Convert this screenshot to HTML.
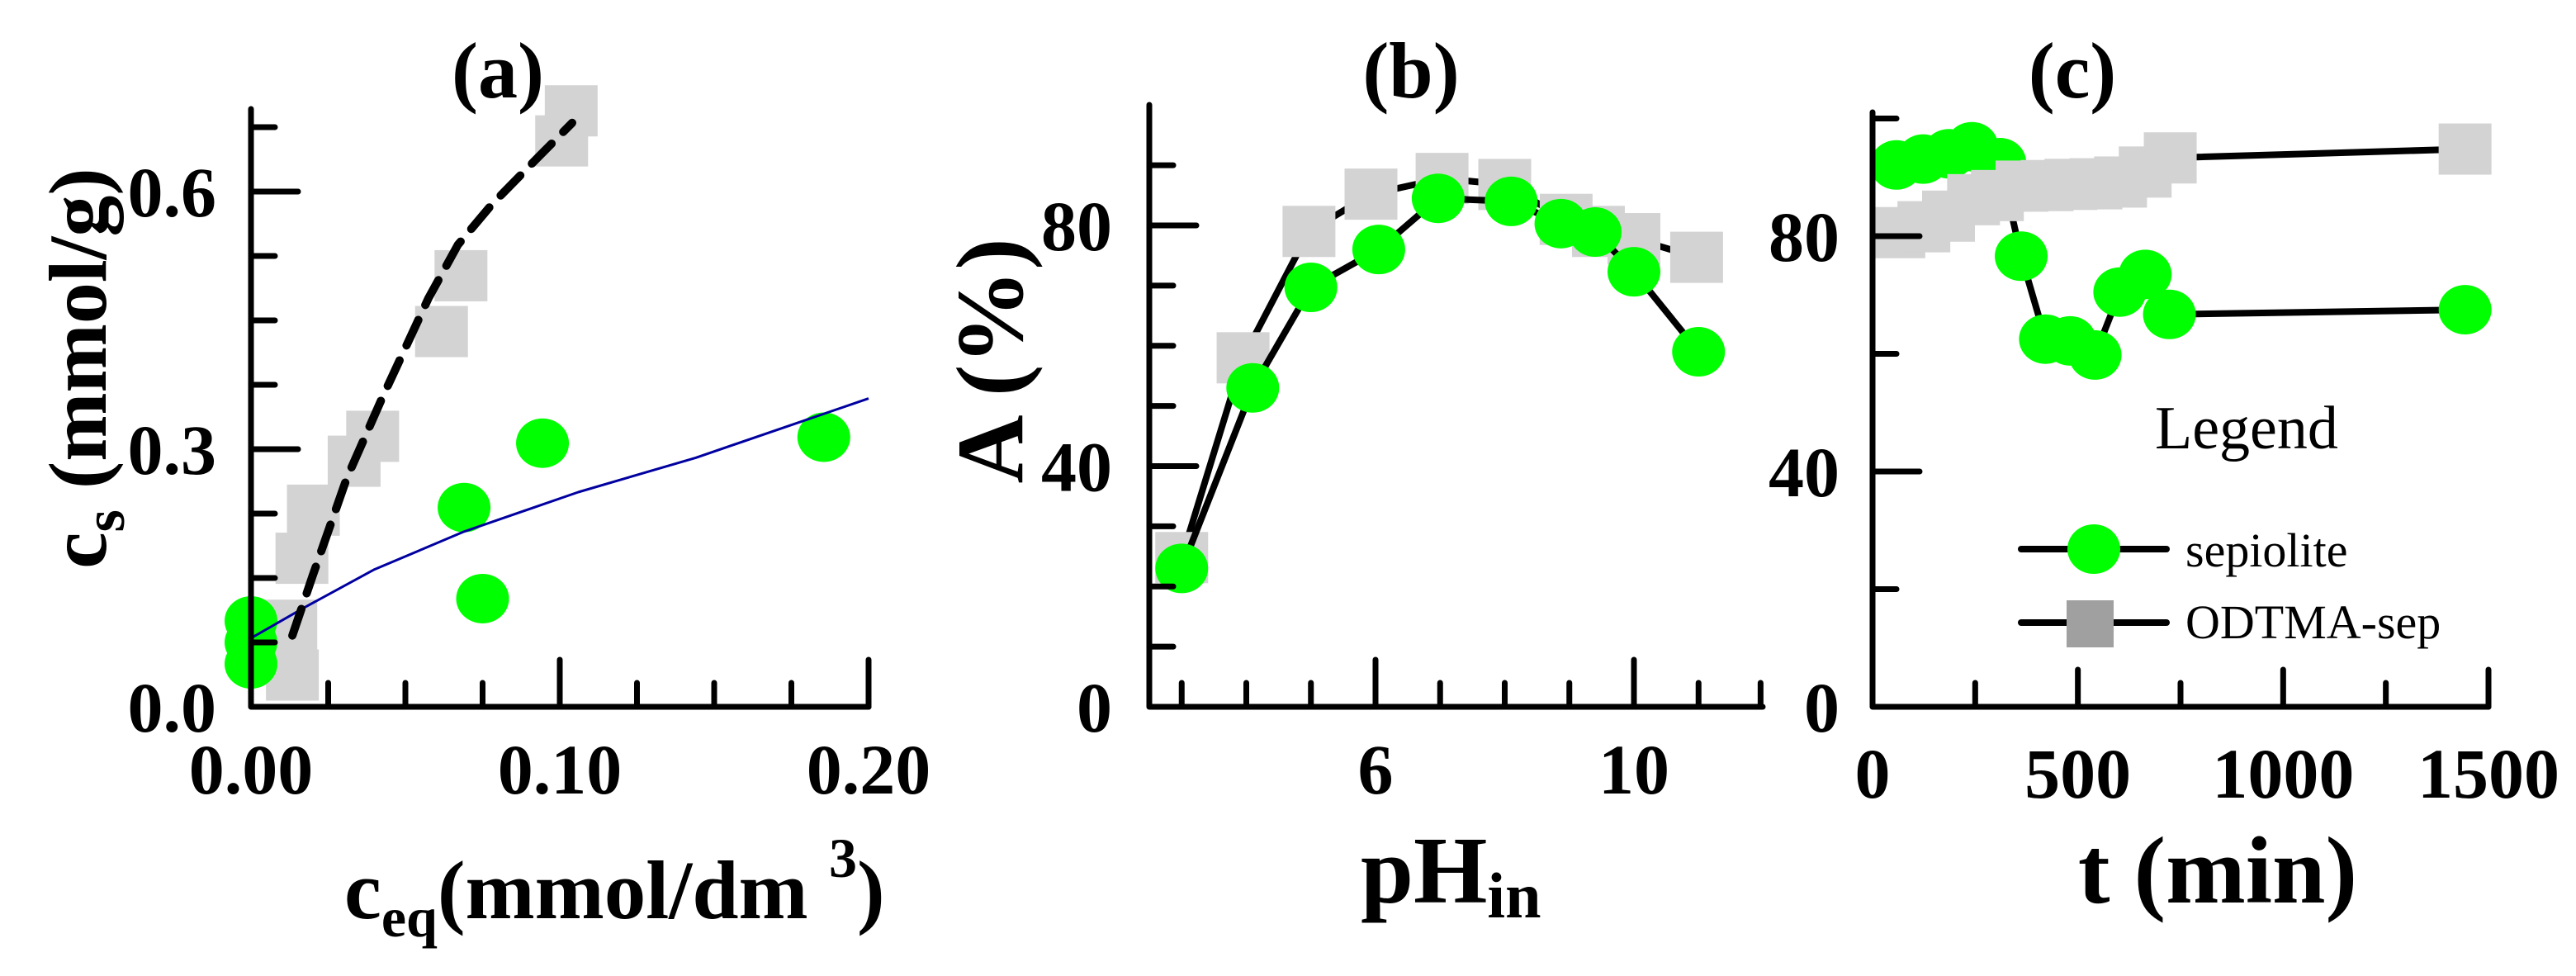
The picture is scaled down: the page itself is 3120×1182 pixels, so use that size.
<!DOCTYPE html>
<html><head><meta charset="utf-8"><style>
html,body{margin:0;padding:0;background:#fff;}
svg{display:block;font-family:'Liberation Serif','Times New Roman','DejaVu Serif',serif;}
svg text{font-family:'Liberation Serif','Times New Roman','DejaVu Serif',serif !important;}
</style></head><body>
<svg id="fig" width="3120" height="1182" viewBox="0 0 3120 1182" font-family="'Liberation Serif', 'DejaVu Serif', serif" xmlns="http://www.w3.org/2000/svg">
<g id="pa"></g>
<g id="pb"></g>
<g id="pc"></g>
<g>
  <text x="2610" y="543" font-size="74">Legend</text>
  <line x1="2448" y1="665" x2="2624" y2="665" stroke="#000" stroke-width="8" stroke-linecap="round"/>
  <ellipse cx="2536" cy="665" rx="32" ry="30" fill="#00ff00"/>
  <text x="2647" y="686" font-size="58">sepiolite</text>
  <line x1="2448" y1="754" x2="2624" y2="754" stroke="#000" stroke-width="8" stroke-linecap="round"/>
  <rect x="2503" y="727" width="57" height="57" fill="#a0a0a0"/>
  <text x="2647" y="773" font-size="58">ODTMA-sep</text>
</g>
</svg>
<script>
// ---- Panel (a) data ----
const aSqX = [0.1037, 0.1006, 0.068, 0.0617, 0.0394, 0.0334, 0.0202, 0.0165, 0.0129, 0.0134];
const aSqY = [0.694, 0.659, 0.502, 0.437, 0.315, 0.286, 0.229, 0.173, 0.095, 0.037];
const aCiX = [0.0, 0.0, 0.0, 0.0944, 0.069, 0.075, 0.1855];
const aCiY = [0.10, 0.075, 0.05, 0.307, 0.232, 0.126, 0.314];
const aFitDashX = [0.0134, 0.02, 0.031, 0.0425, 0.0575, 0.067, 0.078, 0.093, 0.104];
const aFitDashY = [0.083, 0.153, 0.266, 0.36, 0.476, 0.538, 0.585, 0.64, 0.68];
const aFitBlueX = [0.0, 0.018, 0.04, 0.069, 0.106, 0.144, 0.2];
const aFitBlueY = [0.08, 0.117, 0.16, 0.204, 0.25, 0.29, 0.359];
const aXTickLabels = ["0.00", "0.10", "0.20"];
const aYTickLabels = ["0.0", "0.3", "0.6"];
// ---- Panel (b) data ----
const bPH1 = [3.0, 4.1, 5.0, 6.05, 6.97, 8.1, 8.87, 9.4, 10.0, 11.0];
const bA1 = [23, 53, 69.7, 76, 84.5, 84, 80.3, 78.9, 72.3, 59];
const bPH2 = [3.0, 3.95, 4.97, 5.93, 7.03, 8.0, 8.95, 9.45, 10.0, 10.97];
const bA2 = [24.8, 58, 79, 85.2, 87.8, 86.8, 81, 79, 77.8, 74.7];
const bXTickLabels = ["6", "10"];
const bYTickLabels = ["0", "40", "80"];
// ---- Panel (c) data ----
const cT1 = [58, 123, 186, 242, 310, 362, 421, 481, 542, 602, 664, 723, 1443];
const cA1 = [92.1, 93.1, 94, 95.2, 92.5, 76.6, 62.5, 62.2, 59.8, 70.5, 73.5, 66.7, 67.5];
const cT2 = [64, 125, 185, 246, 304, 364, 425, 483, 544, 604, 664, 725, 1443];
const cA2 = [80.6, 81.6, 83.4, 86.2, 86.9, 88.5, 88.6, 88.8, 88.9, 89.2, 90.9, 93.3, 94.8];
const cXTickLabels = ["0", "500", "1000", "1500"];
const cYTickLabels = ["0", "40", "80"];

const NS = "http://www.w3.org/2000/svg";
function mk(parent, tag, attrs) {
  const e = document.createElementNS(NS, tag);
  for (const k in attrs) e.setAttribute(k, attrs[k]);
  parent.appendChild(e);
  return e;
}
function lin(d0, d1, r0, r1) { return v => r0 + (v - d0) * (r1 - r0) / (d1 - d0); }

function axes(g, o) {
  let e = mk(g, "path", {d: `M${o.x0} ${o.yT}V${o.yB}H${o.x1}`, fill: "none", stroke: "#000", "stroke-width": 7, "stroke-linecap": "round", "stroke-linejoin": "round"});
  
  
  o.xticks.forEach(t => {
    const x = o.xs(t.v);
    const l = mk(g, "line", {x1: x, x2: x, y1: o.yB, y2: o.yB - t.len, stroke: "#000", "stroke-width": 7, "stroke-linecap": "round"});
    
    
  });
  o.yticks.forEach(t => {
    const y = o.ys(t.v);
    const l = mk(g, "line", {x1: o.x0, x2: o.x0 + t.len, y1: y, y2: y, stroke: "#000", "stroke-width": 7, "stroke-linecap": "round"});
    
    
  });
}
function label(g, x, y, s, size, anchor, name, weight) {
  const t = mk(g, "text", {x: x, y: y, "font-size": size, "font-weight": weight || "bold", "text-anchor": anchor});
  t.textContent = s;
  
  
  return t;
}
function polyline(g, xs, ys, X, Y, attrs, name) {
  const pts = X.map((v, i) => xs(v).toFixed(1) + "," + ys(Y[i]).toFixed(1)).join(" ");
  const p = mk(g, "polyline", Object.assign({points: pts, fill: "none"}, attrs));
  
  
}
function circles(g, xs, ys, X, Y, name) {
  X.forEach((v, i) => {
    const c = mk(g, "ellipse", {cx: xs(v), cy: ys(Y[i]), rx: 32, ry: 30, fill: "#00ff00"});
    
    
  });
}
function squares(g, xs, ys, X, Y, name) {
  X.forEach((v, i) => {
    const r = mk(g, "rect", {x: xs(v) - 32, y: ys(Y[i]) - 31, width: 64, height: 62, fill: "#d3d3d3"});
    
    
  });
}

// ===== Panel (a) =====
(function () {
  const g = document.getElementById("pa");
  const xs = lin(0, 0.2, 304, 1052), ys = lin(0, 0.3, 856, 544);
  const xt = []; for (let i = 1; i <= 8; i++) xt.push({v: i * 0.025, len: (i % 4 === 0) ? 57 : 29});
  const yt = []; for (let i = 1; i <= 9; i++) yt.push({v: i * 0.075, len: (i % 4 === 0) ? 57 : 29});
  squares(g, xs, ys, aSqX, aSqY, "odtma-sep-point");
  circles(g, xs, ys, aCiX, aCiY, "sepiolite-point");
  polyline(g, xs, ys, aFitBlueX, aFitBlueY, {stroke: "#0000a0", "stroke-width": 3, "stroke-linejoin": "round"}, "sepiolite-fit-line");
  polyline(g, xs, ys, aFitDashX, aFitDashY, {stroke: "#000", "stroke-width": 10, "stroke-dasharray": "34 20", "stroke-linecap": "round", "stroke-linejoin": "round"}, "odtma-fit-line");
  axes(g, {x0: 304, x1: 1052, yB: 856, yT: 132, xs: xs, ys: ys, xticks: xt, yticks: yt});
  [0, 0.1, 0.2].forEach((v, i) => label(g, xs(v), 961, aXTickLabels[i], 86, "middle", "x-tick-label"));
  [0, 0.3, 0.6].forEach((v, i) => label(g, 262, ys(v) + 30, aYTickLabels[i], 86, "end", "y-tick-label"));
  label(g, 603, 118, "(a)", 96, "middle", "panel-a-title");
  const yt2 = mk(g, "text", {transform: "translate(128,446) rotate(-90)", "font-size": 100, "font-weight": "bold", "text-anchor": "middle"});
  
  
  yt2.innerHTML = 'c<tspan font-size="70" dy="22">s</tspan><tspan dy="-22"> (mmol/g)</tspan>';
  const xt2 = mk(g, "text", {x: 417, y: 1112, "font-size": 101, "font-weight": "bold"});
  
  
  xt2.innerHTML = 'c<tspan font-size="68" dy="22">eq</tspan><tspan dy="-22">(mmol/dm </tspan><tspan font-size="68" dy="-50">3</tspan><tspan dy="50">)</tspan>';
})();

// ===== Panel (b) =====
(function () {
  const g = document.getElementById("pb");
  const xs = lin(6, 10, 1666, 1979), ys = lin(0, 80, 856, 273);
  const xt = []; for (let v = 3; v <= 11; v++) xt.push({v: v, len: (v === 6 || v === 10) ? 57 : 29});
  xt.push({v: 11.96, len: 29});
  const yt = []; for (let v = 10; v <= 90; v += 10) yt.push({v: v, len: (v % 40 === 0) ? 57 : 29});
  polyline(g, xs, ys, bPH2, bA2, {stroke: "#000", "stroke-width": 8, "stroke-linejoin": "round"}, "odtma-sep-line");
  squares(g, xs, ys, bPH2, bA2, "odtma-sep-point");
  polyline(g, xs, ys, bPH1, bA1, {stroke: "#000", "stroke-width": 8, "stroke-linejoin": "round"}, "sepiolite-line");
  circles(g, xs, ys, bPH1, bA1, "sepiolite-point");
  axes(g, {x0: 1392, x1: 2135, yB: 856, yT: 127, xs: xs, ys: ys, xticks: xt, yticks: yt});
  [6, 10].forEach((v, i) => label(g, xs(v), 961, bXTickLabels[i], 86, "middle", "x-tick-label"));
  [0, 40, 80].forEach((v, i) => label(g, 1347, ys(v) + 30, bYTickLabels[i], 86, "end", "y-tick-label"));
  label(g, 1709, 118, "(b)", 96, "middle", "panel-b-title");
  const yt2 = mk(g, "text", {transform: "translate(1238,437) rotate(-90)", "font-size": 115, "font-weight": "bold", "text-anchor": "middle"});
  
  
  yt2.textContent = "A (%)";
  const xt2 = mk(g, "text", {x: 1648, y: 1093, "font-size": 115, "font-weight": "bold"});
  
  
  xt2.innerHTML = 'pH<tspan font-size="78" dy="18">in</tspan>';
})();

// ===== Panel (c) =====
(function () {
  const g = document.getElementById("pc");
  const xs = lin(0, 1500, 2268, 3014), ys = lin(0, 80, 856, 286);
  const xt = []; for (let v = 250; v <= 1500; v += 250) xt.push({v: v, len: (v % 500 === 0) ? 45 : 29});
  const yt = []; for (let v = 20; v <= 100; v += 20) yt.push({v: v, len: (v % 40 === 0) ? 57 : 29});
  polyline(g, xs, ys, cT1, cA1, {stroke: "#000", "stroke-width": 8, "stroke-linejoin": "round"}, "sepiolite-line");
  circles(g, xs, ys, cT1, cA1, "sepiolite-point");
  polyline(g, xs, ys, cT2, cA2, {stroke: "#000", "stroke-width": 8, "stroke-linejoin": "round"}, "odtma-sep-line");
  squares(g, xs, ys, cT2, cA2, "odtma-sep-point");
  axes(g, {x0: 2268, x1: 3014, yB: 856, yT: 136, xs: xs, ys: ys, xticks: xt, yticks: yt});
  [0, 500, 1000, 1500].forEach((v, i) => label(g, xs(v), 966, cXTickLabels[i], 86, "middle", "x-tick-label"));
  [0, 40, 80].forEach((v, i) => label(g, 2228, ys(v) + 30, cYTickLabels[i], 86, "end", "y-tick-label"));
  label(g, 2510, 118, "(c)", 96, "middle", "panel-c-title");
  label(g, 2686, 1093, "t (min)", 116, "middle", "x-axis-title");
})();
</script>
</body></html>
